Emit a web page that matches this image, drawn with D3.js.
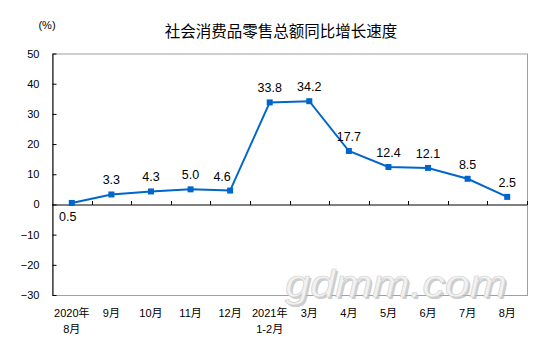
<!DOCTYPE html>
<html>
<head>
<meta charset="utf-8">
<script src="https://cdn.jsdelivr.net/npm/d3@7"></script>
<style>
  body { margin: 0; background: #fff; }
  text { font-family: "Liberation Sans", Arial, "Noto Sans CJK SC", sans-serif; }
</style>
</head>
<body>
<div id="chart"></div>
<script>
const months = ["2020年\n8月", "9月", "10月", "11月", "12月", "2021年\n1-2月", "3月", "4月", "5月", "6月", "7月", "8月"];
const growth = [0.5, 3.3, 4.3, 5.0, 4.6, 33.8, 34.2, 17.7, 12.4, 12.1, 8.5, 2.5];
const yTicks = [-30, -20, -10, 0, 10, 20, 30, 40, 50];
const titleText = "社会消费品零售总额同比增长速度";
const unitText = "(%)";

function PlotChart(parent_element) {
  const W = 554, H = 351;
  const margin = {top: 53.5, right: 27, bottom: 56, left: 52};
  const width = W - margin.left - margin.right;
  const height = H - margin.top - margin.bottom;

  const svg = d3.select("#" + parent_element)
    .append("svg")
      .attr("width", W)
      .attr("height", H);

  const g = svg.append("g")
      .attr("transform", `translate(${margin.left},${margin.top})`);

  const x = d3.scaleBand().domain(months).range([0, width]);
  const y = d3.scaleLinear().domain([-30, 50]).range([height, 0]);

  // frame (grey top / right / bottom)
  g.append("rect")
      .attr("x", 0.5).attr("y", 0.5)
      .attr("width", width).attr("height", height)
      .attr("fill", "none")
      .attr("stroke", "#a0a0a0");

  // y axis, ticks pointing inside
  const yAxis = g.append("g")
      .attr("transform", "translate(0.5,0)")
      .call(d3.axisLeft(y).tickValues(yTicks).tickSizeInner(-4).tickSizeOuter(0).tickPadding(13));
  yAxis.select(".domain").attr("stroke", "#000");
  yAxis.selectAll("line").attr("stroke", "#000");
  yAxis.selectAll("text")
      .attr("fill", "#000")
      .style("font-size", "11px");

  // zero line with ticks at category boundaries pointing up
  const zero = g.append("g").attr("transform", `translate(0,${Math.round(y(0)) + 0.5})`);
  zero.append("line")
      .attr("x1", 0).attr("x2", width)
      .attr("stroke", "#000");
  zero.selectAll("line.tick")
    .data(months)
    .enter()
    .append("line")
      .attr("class", "tick")
      .attr("x1", d => Math.round(x(d) + x.bandwidth()) + 0.5)
      .attr("x2", d => Math.round(x(d) + x.bandwidth()) + 0.5)
      .attr("y1", 0).attr("y2", -4)
      .attr("stroke", "#000");

  // category labels
  const xl = g.append("g")
      .attr("transform", `translate(0,${height})`)
    .selectAll("text")
    .data(months)
    .enter()
    .append("text")
      .attr("text-anchor", "middle")
      .style("font-size", "11px")
      .attr("fill", "#000");
  xl.each(function(d) {
    const parts = d.split("\n");
    d3.select(this).selectAll("tspan")
      .data(parts)
      .enter()
      .append("tspan")
        .attr("x", x(d) + x.bandwidth() / 2)
        .attr("y", (p, i) => 22 + i * 16)
        .text(p => p);
  });

  // series line
  const line = d3.line()
    .x((d, i) => x(months[i]) + x.bandwidth() / 2)
    .y(d => y(d));

  g.append("path")
      .datum(growth)
      .attr("d", line)
      .attr("fill", "none")
      .attr("stroke", "#0066cc")
      .attr("stroke-width", 2);

  g.selectAll("rect.marker")
    .data(growth)
    .enter()
    .append("rect")
      .attr("class", "marker")
      .attr("x", (d, i) => x(months[i]) + x.bandwidth() / 2 - 3)
      .attr("y", d => y(d) - 3)
      .attr("width", 6)
      .attr("height", 6)
      .attr("fill", "#0066cc");

  // value labels: first one below, others above; nudge left before a steep rise
  g.selectAll("text.val")
    .data(growth)
    .enter()
    .append("text")
      .attr("class", "val")
      .attr("x", (d, i) => {
        let cx = x(months[i]) + x.bandwidth() / 2;
        if (i === 0) cx -= 4;
        if (i < growth.length - 1 && growth[i + 1] - d > 10) cx -= 8;
        return cx;
      })
      .attr("y", (d, i) => i === 0 ? y(d) + 18 : y(d) - 10)
      .attr("text-anchor", "middle")
      .style("font-size", "12.5px")
      .attr("fill", "#000")
      .text(d => d.toFixed(1));

  // title and unit
  svg.append("text")
      .attr("x", 281)
      .attr("y", 37)
      .attr("text-anchor", "middle")
      .style("font-family", "'Noto Sans CJK SC', sans-serif")
      .style("font-size", "15.5px")
      .attr("fill", "#000")
      .text(titleText);

  svg.append("text")
      .attr("x", 47)
      .attr("y", 29)
      .attr("text-anchor", "middle")
      .style("font-size", "11px")
      .attr("fill", "#000")
      .text(unitText);

  // watermark
  const wm = svg.append("g").attr("transform", "translate(285,297)");
  wm.append("text")
      .attr("x", 2).attr("y", 2)
      .attr("textLength", 222)
      .attr("lengthAdjust", "spacingAndGlyphs")
      .style("font-size", "38px")
      .style("font-style", "italic")
      .attr("fill", "#b8b8b8")
      .attr("opacity", 0.7)
      .text("gdmm.com");
  wm.append("text")
      .attr("textLength", 222)
      .attr("lengthAdjust", "spacingAndGlyphs")
      .style("font-size", "38px")
      .style("font-style", "italic")
      .attr("fill", "#f2f2f2")
      .attr("stroke", "#d0d0d0")
      .attr("stroke-width", 0.6)
      .text("gdmm.com");
}

document.addEventListener('DOMContentLoaded', (event) => {
  PlotChart("chart");
});
</script>
</body>
</html>
